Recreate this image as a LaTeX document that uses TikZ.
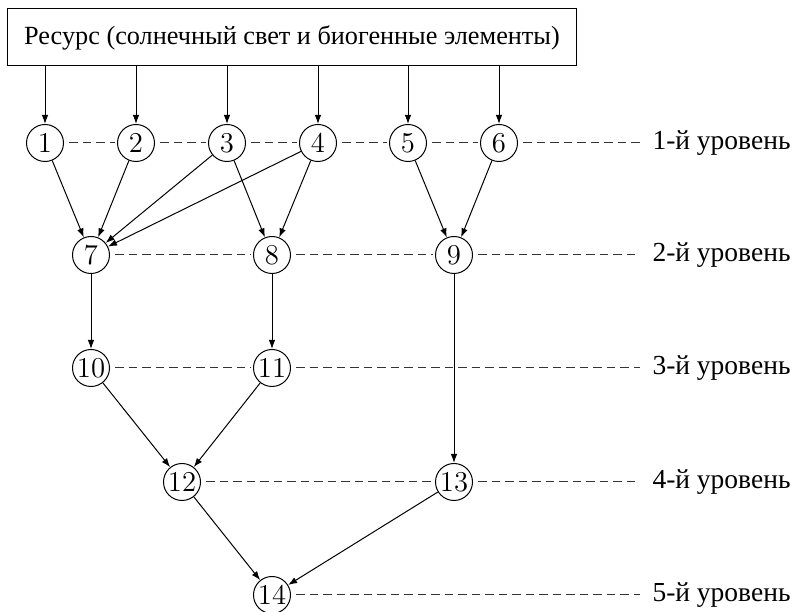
\documentclass[tikz,border=0pt]{standalone}
\usepackage{fontspec}
\newfontfamily\cyr{Liberation Serif}
\usetikzlibrary{arrows.meta}
\begin{document}
\begin{tikzpicture}[x=0.4pt,y=-0.4pt,
  vert/.style={circle,draw,inner sep=0pt,minimum size=14.8pt,font=\fontsize{11.5}{13}\selectfont},
  arr/.style={-{Latex[length=3.6pt,width=2.6pt]}},
  lvl/.style={dash pattern=on 3.4pt off 2pt, black!80, shorten <=2pt, shorten >=1pt},
  lab/.style={anchor=west,inner sep=4pt,font=\cyr\fontsize{11}{13}\selectfont},
  resbox/.style={draw,minimum width=227.2pt,minimum height=22.8pt,inner sep=0pt,font=\cyr\fontsize{10.5}{13}\selectfont}]
\useasboundingbox (0,0) rectangle (795,612);
\node[resbox] (res) at (292,37.5) {Ресурс (солнечный свет и биогенные элементы)};
% level 1
\node[vert] (n1) at (45,143) {1};
\node[vert] (n2) at (136,143) {2};
\node[vert] (n3) at (227,143) {3};
\node[vert] (n4) at (318,143) {4};
\node[vert] (n5) at (408,143) {5};
\node[vert] (n6) at (499,143) {6};
% level 2
\node[vert] (n7) at (91,255) {7};
\node[vert] (n8) at (272,255) {8};
\node[vert] (n9) at (454,255) {9};
% level 3
\node[vert] (n10) at (91,368) {10};
\node[vert] (n11) at (272,368) {11};
% level 4
\node[vert] (n12) at (182,482) {12};
\node[vert] (n13) at (454,482) {13};
% level 5
\node[vert] (n14) at (272,595) {14};
% labels
\node[lab] (l1) at (642,143) {1-й уровень};
\node[lab] (l2) at (642,255) {2-й уровень};
\node[lab] (l3) at (642,368) {3-й уровень};
\node[lab] (l4) at (642,482) {4-й уровень};
\node[lab] (l5) at (642,595) {5-й уровень};
% resource arrows
\foreach \n in {n1,n2,n3,n4,n5,n6}
  \draw[arr] (res.south -| \n) -- (\n);
% flows
\draw[arr] (n1) -- (n7);
\draw[arr] (n2) -- (n7);
\draw[arr] (n3) -- (n7);
\draw[arr] (n4) -- (n7);
\draw[arr] (n3) -- (n8);
\draw[arr] (n4) -- (n8);
\draw[arr] (n5) -- (n9);
\draw[arr] (n6) -- (n9);
\draw[arr] (n7) -- (n10);
\draw[arr] (n8) -- (n11);
\draw[arr] (n9) -- (n13);
\draw[arr] (n10) -- (n12);
\draw[arr] (n11) -- (n12);
\draw[arr] (n12) -- (n14);
\draw[arr] (n13) -- (n14);
% level lines
\draw[lvl] (n1) -- (n2);
\draw[lvl] (n2) -- (n3);
\draw[lvl] (n3) -- (n4);
\draw[lvl] (n4) -- (n5);
\draw[lvl] (n5) -- (n6);
\draw[lvl] (n6) -- (l1.west);
\draw[lvl] (n7) -- (n8);
\draw[lvl] (n8) -- (n9);
\draw[lvl] (n9) -- (l2.west);
\draw[lvl] (n10) -- (n11);
\draw[lvl] (n11) -- (l3.west);
\draw[lvl] (n12) -- (n13);
\draw[lvl] (n13) -- (l4.west);
\draw[lvl] (n14) -- (l5.west);
\end{tikzpicture}
\end{document}
